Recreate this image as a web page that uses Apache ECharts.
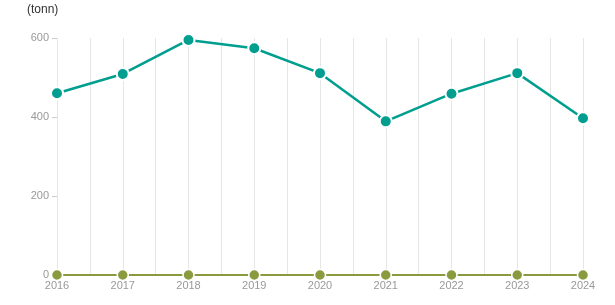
<!DOCTYPE html>
<html><head><meta charset="utf-8">
<script src="https://cdn.jsdelivr.net/npm/echarts@6/dist/echarts.min.js"></script>
<style>html,body{margin:0;padding:0;background:#fff}#c{width:615px;height:305px}</style>
</head><body><div id="c"></div>
<script>
const years = [2016, 2017, 2018, 2019, 2020, 2021, 2022, 2023, 2024];
const seriesA = [460, 509, 595, 574, 511, 389, 459, 511, 397];
const seriesB = [0, 0, 0, 0, 0, 0, 0, 0, 0];
const yTicks = [0, 200, 400, 600];

const chart = echarts.init(document.getElementById('c'));
chart.setOption({
  animation: false,
  title: { text: '(tonn)', left: 22, top: -1, textStyle: { fontSize: 12, fontWeight: 'normal', color: '#333', fontFamily: 'Arial, Liberation Sans' } },
  grid: { left: 57, right: 32, top: 38, bottom: 30 },
  xAxis: {
    type: 'value', min: 2016, max: 2024, interval: 0.5,
    axisLine: { show: false }, axisTick: { show: false },
    axisLabel: { color: '#999', fontSize: 11, fontFamily: 'Arial, Liberation Sans', margin: 5,
      formatter: v => Number.isInteger(v) ? String(v) : '' },
    splitLine: { show: true, lineStyle: { color: '#e6e6e6', width: 1 } }
  },
  yAxis: {
    type: 'value', min: 0, max: 600, interval: 200,
    axisLine: { show: false },
    axisTick: { show: true, length: 5, lineStyle: { color: '#ccc' } },
    axisLabel: { color: '#999', fontSize: 11, fontFamily: 'Arial, Liberation Sans', margin: 8,
      formatter: v => yTicks.includes(v) ? String(v) : '' },
    splitLine: { show: false }
  },
  series: [
    { type: 'line', data: years.map((y, i) => [y, seriesB[i]]), symbol: 'circle', symbolSize: 11,
      lineStyle: { color: '#8a9a3e', width: 2 }, itemStyle: { color: '#8a9a3e', borderColor: '#fff', borderWidth: 1.5 } },
    { type: 'line', data: years.map((y, i) => [y, seriesA[i]]), symbol: 'circle', symbolSize: 12,
      lineStyle: { color: '#009e8f', width: 2.5 }, itemStyle: { color: '#009e8f', borderColor: '#fff', borderWidth: 2 } }
  ]
});
</script></body></html>
